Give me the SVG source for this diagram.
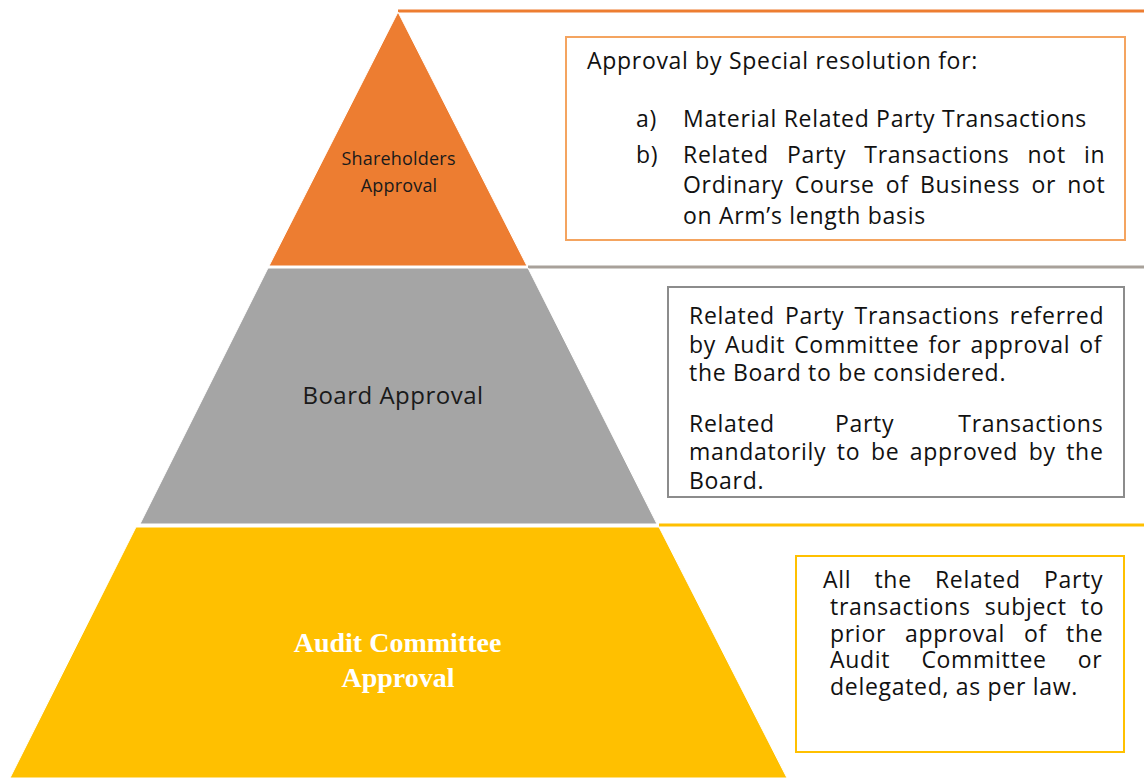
<svg xmlns="http://www.w3.org/2000/svg" width="1144" height="778" viewBox="0 0 1144 778">
  <style>
    .layer { stroke: #ffffff; stroke-width: 1; }
    .body { font-family: "Open Sans", "Liberation Sans", sans-serif; font-size: 23px; letter-spacing: 0.7px; fill: #111111; }
    .label { font-family: "Open Sans", "Liberation Sans", sans-serif; fill: #1a1a1a; text-anchor: middle; }
    .serif { font-family: "Liberation Serif", "Times New Roman", serif; font-weight: bold; font-size: 28px; fill: #ffffff; text-anchor: middle; }
    .rule { stroke-width: 3; fill: none; }
    .box { fill: #ffffff; stroke-width: 2; }
  </style>
  <defs>
    <clipPath id="boardClip">
      <rect x="669" y="288" width="454" height="203"/>
    </clipPath>
  </defs>

  <rect width="1144" height="778" fill="#ffffff"/>

  <!-- rules running out from each level of the pyramid -->
  <g id="connectors">
    <line class="rule" x1="398" y1="11" x2="1144" y2="11" stroke="#ED7D31"/>
    <line class="rule" x1="528" y1="267" x2="1144" y2="267" stroke="#A8A19A"/>
    <line class="rule" x1="659" y1="525" x2="1144" y2="525" stroke="#FFC000"/>
  </g>

  <g id="shareholders">
    <polygon class="layer" points="398,12 527,266 269,266" fill="#ED7D31"/>
    <text class="label" font-size="18" letter-spacing="0.2">
      <tspan x="401" y="165">Shareholders</tspan>
      <tspan x="399" y="192">Approval</tspan>
    </text>
  </g>

  <g id="board">
    <polygon class="layer" points="268,268 528,268 657,524 140,524" fill="#A5A5A5"/>
    <text class="label" x="393" y="404" font-size="24" letter-spacing="0.5">Board Approval</text>
  </g>

  <g id="audit">
    <polygon class="layer" points="136,527 659,527 787,778 10,778" fill="#FFC000"/>
    <text class="serif">
      <tspan x="401" y="652">Audit Committee</tspan>
      <tspan x="398" y="687">Approval</tspan>
    </text>
  </g>

  <!-- description boxes, justified lines use word spacing -->
  <g id="shareholders-note">
    <rect class="box" x="566" y="37" width="559" height="203" stroke="#F4A460"/>
    <text class="body">
      <tspan x="587" y="69">Approval by Special resolution for:</tspan>
      <tspan x="636" y="127">a)</tspan>
      <tspan x="683" y="127">Material Related Party Transactions</tspan>
      <tspan x="636" y="163">b)</tspan>
      <tspan x="683" y="163" word-spacing="11.5">Related Party Transactions not in</tspan>
      <tspan x="683" y="193" word-spacing="4.5">Ordinary Course of Business or not</tspan>
      <tspan x="683" y="224">on Arm’s length basis</tspan>
    </text>
  </g>

  <g id="board-note">
    <rect class="box" x="668" y="287" width="456" height="210" stroke="#8C8C8C"/>
    <text class="body" clip-path="url(#boardClip)">
      <tspan x="689" y="324" word-spacing="3.6">Related Party Transactions referred</tspan>
      <tspan x="689" y="353" word-spacing="2.3">by Audit Committee for approval of</tspan>
      <tspan x="689" y="381">the Board to be considered.</tspan>
      <tspan x="689" y="432">Related</tspan>
      <tspan x="835" y="432">Party</tspan>
      <tspan x="1110" y="432" text-anchor="end">Transactions</tspan>
      <tspan x="689" y="460" word-spacing="3.9">mandatorily to be approved by the</tspan>
      <tspan x="689" y="489">Board.</tspan>
    </text>
  </g>

  <g id="audit-note">
    <rect class="box" x="796" y="556" width="328" height="196" stroke="#FFC000"/>
    <text class="body">
      <tspan x="823" y="588" word-spacing="16.5">All the Related Party</tspan>
      <tspan x="830" y="615" word-spacing="7.5">transactions subject to</tspan>
      <tspan x="830" y="642" word-spacing="12.4">prior approval of the</tspan>
      <tspan x="830" y="668" word-spacing="24.5">Audit Committee or</tspan>
      <tspan x="830" y="695">delegated, as per law.</tspan>
    </text>
  </g>
</svg>
